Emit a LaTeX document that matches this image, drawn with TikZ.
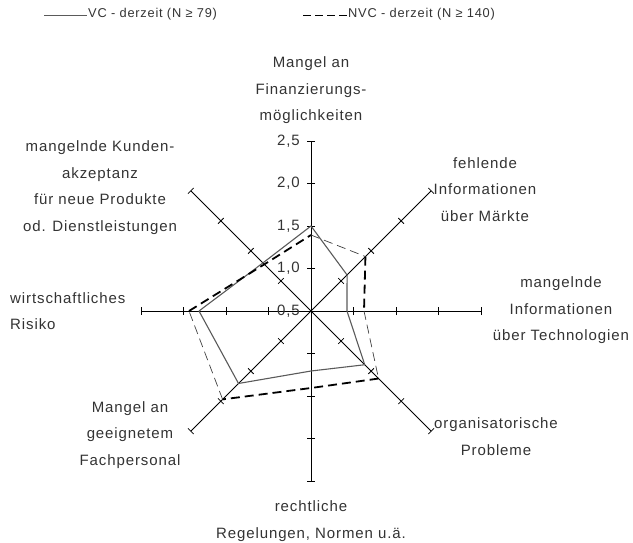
\documentclass[tikz,border=0pt]{standalone}
\usepackage{fontspec}
\setmainfont{Liberation Sans}[LetterSpace=6]
\definecolor{txt}{HTML}{333333}
\definecolor{vcgray}{HTML}{5A5A5A}
\begin{document}
\begin{tikzpicture}[x=1pt,y=-1pt,
  lbl/.style={font=\fontsize{15}{26.5}\selectfont, text=txt, align=center, inner sep=0pt},
  ticklbl/.style={font=\fontsize{15}{18}\selectfont, text=txt, anchor=east, inner sep=0pt},
  legtxt/.style={font=\fontsize{12.8}{15}\selectfont, text=txt, anchor=west, inner sep=0pt},
  axisline/.style={draw=black, line width=0.8pt},
  vcline/.style={draw=vcgray, line width=1.1pt, line join=round},
  nvcthick/.style={draw=black, line width=1.8pt, dash pattern=on 9pt off 5pt},
  nvcthin/.style={draw=black!75, line width=0.7pt, dash pattern=on 9pt off 5pt},
  legdash/.style={draw=black, line width=1.8pt, dash pattern=on 8pt off 4pt}]
\useasboundingbox (0,0) rectangle (633,542);

% legend
\coordinate (l1a) at (44,15.5);
\coordinate (l1b) at (87,15.5);
\draw[vcgray, line width=1pt] (l1a) -- (l1b);
\node[legtxt] (leg1) at (88,14.5) {VC - derzeit (N ≥ 79)};
\coordinate (l2a) at (303,15.5);
\coordinate (l2b) at (347,15.5);
\draw[legdash] (l2a) -- (l2b);
\node[legtxt] (leg2) at (348,14.5) {NVC - derzeit (N ≥ 140)};

% radar
\begin{scope}[shift={(311,311)}, y=1pt]
  \coordinate (O) at (0,0);
  \foreach \a/\n in {90/N,45/NE,0/E,-45/SE,-90/S,-135/SW,180/W,135/NW} {
    \coordinate (ax\n) at (\a:170);
    \draw[axisline] (O) -- (ax\n);
    \foreach \k in {1,2,3,4}
      \draw[axisline, rotate=\a] (42.5*\k,-4) -- (42.5*\k,4);
  }
  \foreach \k/\t in {0/{0,5},1/{1,0},2/{1,5},3/{2,0},4/{2,5}}
    \node[ticklbl] (t\k) at (-11,42.5*\k) {\t};

  % VC data
  \foreach \n/\a/\r in {N/90/85, NE/45/51, E/0/36, SE/-45/76, S/-90/60, SW/-135/102.5, W/180/112, NW/135/68}
    \coordinate (v\n) at (\a:\r);
  % NVC data
  \foreach \n/\a/\r in {N/90/76, NE/45/77, E/0/53, SE/-45/95.5, S/-90/77, SW/-135/125, W/180/122, NW/135/66}
    \coordinate (n\n) at (\a:\r);
\end{scope}

\draw[vcline] (vN) -- (vNE) -- (vE) -- (vSE) -- (vS) -- (vSW) -- (vW) -- (vNW) -- cycle;

\draw[nvcthin] (nN) -- (nNE);
\draw[nvcthick] (nNE) -- (nE);
\draw[nvcthin] (nE) -- (nSE);
\draw[nvcthick] (nSE) -- (nS) -- (nSW);
\draw[nvcthin] (nSW) -- (nW);
\draw[nvcthick] (nW) -- (nNW) -- (nN);

% category labels
\node[lbl] (labN) at (311,90.5) {Mangel an\\Finanzierungs-\\möglichkeiten};
\node[lbl] (labNW) at (100,187.5) {mangelnde Kunden-\\akzeptanz\\für neue Produkte\\od. Dienstleistungen};
\node[lbl] (labNE) at (485,189.5) {fehlende\\Informationen\\über Märkte};
\node[lbl] (labE) at (561,310.5) {mangelnde\\Informationen\\über Technologien};
\node[lbl, align=left, anchor=west] (labW) at (10,311) {wirtschaftliches\\Risiko};
\node[lbl] (labSW) at (130,435) {Mangel an\\geeignetem\\Fachpersonal};
\node[lbl] (labSE) at (496,436.5) {organisatorische\\Probleme};
\node[lbl] (labS) at (311,521) {rechtliche\\Regelungen, Normen u.ä.};
\end{tikzpicture}
\end{document}
